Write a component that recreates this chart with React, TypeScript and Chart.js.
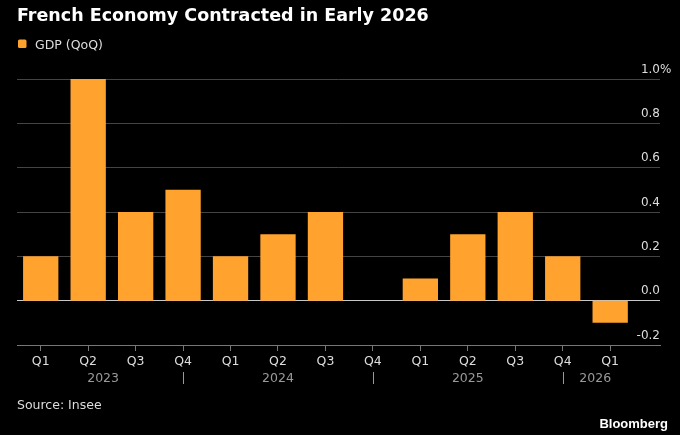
import React, { useEffect, useRef } from "react";
import { Chart, registerables } from "chart.js";

Chart.register(...registerables);

const title = "French Economy Contracted in Early 2026";
const seriesLabel = "GDP (QoQ)";
const quarters = ["Q1", "Q2", "Q3", "Q4", "Q1", "Q2", "Q3", "Q4", "Q1", "Q2", "Q3", "Q4", "Q1"];
const years = ["2023", "2024", "2025", "2026"];
const gdp = [0.2, 1.0, 0.4, 0.5, 0.2, 0.3, 0.4, 0.0, 0.1, 0.3, 0.4, 0.2, -0.1];
const yMin = -0.2;
const yMax = 1.0;
const yStep = 0.2;
const source = "Source: Insee";
const brand = "Bloomberg";

const FONT = "'DejaVu Sans', sans-serif";
const ORANGE = "#ffa32e";

const overlayPlugin = {
  id: "overlay",
  afterDraw(chart: any) {
    const { ctx, chartArea } = chart;
    const x = chart.scales.x;
    const y = chart.scales.y;
    ctx.save();
    ctx.textBaseline = "alphabetic";

    // title
    ctx.fillStyle = "#ffffff";
    ctx.textAlign = "left";
    ctx.font = `bold 17.5px ${FONT}`;
    ctx.fillText(title, 17, 20.7);

    // legend
    ctx.fillStyle = ORANGE;
    ctx.beginPath();
    if (ctx.roundRect) ctx.roundRect(18, 39.5, 8.5, 8.5, 1.5);
    else ctx.rect(18, 39.5, 8.5, 8.5);
    ctx.fill();
    ctx.fillStyle = "#dddddd";
    ctx.font = `12.5px ${FONT}`;
    ctx.fillText(chart.data.datasets[0].label, 35, 49);

    // y labels above grid lines
    ctx.font = `12px ${FONT}`;
    ctx.fillStyle = "#dddddd";
    const ticks = y.ticks;
    ticks.forEach((t: any, i: number) => {
      const py = y.getPixelForValue(t.value);
      const txt = (Math.abs(t.value) < 1e-9 ? 0 : t.value).toFixed(1);
      ctx.textAlign = "right";
      ctx.fillText(txt, chartArea.right, py - 6.5);
      if (i === ticks.length - 1) {
        ctx.textAlign = "left";
        ctx.fillText("%", chartArea.right, py - 6.5);
      }
    });

    // year row
    const meta = chart.getDatasetMeta(0);
    const half = meta.data[0] ? meta.data[0].width / 2 : 17;
    const seps: number[] = [];
    quarters.forEach((q, i) => {
      if (q === "Q4" && i < quarters.length - 1) seps.push(x.getPixelForValue(i));
    });
    const bounds = [x.getPixelForValue(0) - half, ...seps, x.getPixelForValue(quarters.length - 1) + half];
    ctx.strokeStyle = "#999999";
    ctx.lineWidth = 1;
    seps.forEach((sx) => {
      const px = Math.round(sx) + 0.5;
      ctx.beginPath();
      ctx.moveTo(px, 372);
      ctx.lineTo(px, 384);
      ctx.stroke();
    });
    ctx.fillStyle = "#9a9a9a";
    ctx.font = `12.5px ${FONT}`;
    ctx.textAlign = "center";
    years.forEach((yr, i) => {
      ctx.fillText(yr, (bounds[i] + bounds[i + 1]) / 2, 382);
    });

    // source
    ctx.fillStyle = "#dddddd";
    ctx.textAlign = "left";
    ctx.fillText(source, 17, 408.5);

    // brand
    ctx.fillStyle = "#ffffff";
    ctx.textAlign = "right";
    ctx.font = `bold 13px 'Liberation Sans', Arial, sans-serif`;
    ctx.fillText(brand, 668, 427.7);

    ctx.restore();
  },
};

export default function App() {
  const canvasRef = useRef<HTMLCanvasElement | null>(null);

  useEffect(() => {
    document.body.style.margin = "0";
    document.body.style.background = "#000";
    const canvas = canvasRef.current;
    if (!canvas) return;
    const chart = new Chart(canvas, {
      type: "bar",
      data: {
        datasets: [
          {
            label: seriesLabel,
            data: gdp.map((v, i) => ({ x: i, y: v })),
            backgroundColor: ORANGE,
            borderWidth: 0,
            barPercentage: 0.744,
            categoryPercentage: 1,
          },
        ],
      },
      options: {
        animation: false,
        responsive: true,
        maintainAspectRatio: false,
        events: [],
        layout: { padding: { top: 79, left: 17, right: 20, bottom: 60 } },
        plugins: {
          legend: { display: false },
          title: { display: false },
          tooltip: { enabled: false },
        },
        scales: {
          x: {
            type: "linear",
            offset: false,
            min: -0.5,
            max: 13.05,
            afterBuildTicks: (scale: any) => {
              scale.ticks = quarters.map((_, i) => ({ value: i }));
            },
            afterFit: (scale: any) => {
              scale.height = 30;
            },
            grid: {
              display: true,
              offset: false,
              drawOnChartArea: false,
              drawTicks: true,
              tickLength: 6,
              color: "#777777",
            },
            border: { display: true, color: "#777777", width: 1 },
            ticks: {
              autoSkip: false,
              maxRotation: 0,
              padding: 3,
              color: "#dddddd",
              font: { family: FONT, size: 12.5 },
              callback: (value: any) => quarters[Math.round(Number(value))] ?? "",
            },
          },
          y: {
            type: "linear",
            position: "right",
            min: yMin,
            max: yMax,
            ticks: { display: false, stepSize: yStep },
            afterFit: (scale: any) => {
              scale.width = 0;
            },
            border: { display: false },
            grid: {
              drawTicks: false,
              lineWidth: 1,
              color: (c: any) => {
                const v = c.tick ? c.tick.value : 1;
                if (Math.abs(v) < 1e-9) return "#c8c8c8";
                if (Math.abs(v - yMin) < 1e-9) return "#777777";
                return "#444444";
              },
            },
          },
        },
      } as any,
      plugins: [overlayPlugin],
    });
    return () => chart.destroy();
  }, []);

  return (
    <div
      style={{
        position: "absolute",
        left: 0,
        top: 0,
        width: 680,
        height: 435,
        background: "#000",
      }}
    >
      <canvas ref={canvasRef} />
    </div>
  );
}
